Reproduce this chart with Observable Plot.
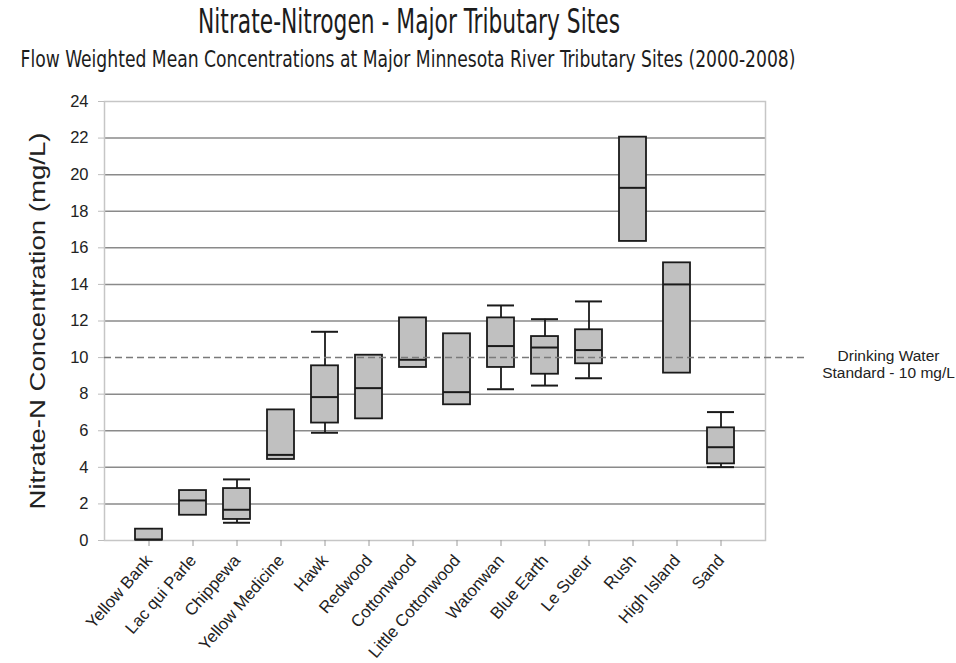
<!DOCTYPE html>
<html>
<head>
<meta charset="utf-8">
<script src="https://cdn.jsdelivr.net/npm/d3@7"></script>
<script src="https://cdn.jsdelivr.net/npm/@observablehq/plot@0.6"></script>
<style>
  body { margin: 0; background: #fff; }
  #header, #chart { display: block; }
  #header text { fill: #1c1c1c; font-family: 'Liberation Sans Narrow', 'DejaVu Sans Condensed', 'Liberation Sans', sans-serif; }
</style>
</head>
<body>
<svg id="header" width="956" height="75"></svg>
<div id="chart"></div>
<script>
// ---- Text ----
const titleText = "Nitrate-Nitrogen - Major Tributary Sites";
const subtitleText = "Flow Weighted Mean Concentrations at Major Minnesota River Tributary Sites (2000-2008)";
const yLabelText = "Nitrate-N Concentration (mg/L)";
const standardText = "Drinking Water\nStandard - 10 mg/L";

// ---- Data ----
const sites = ["Yellow Bank", "Lac qui Parle", "Chippewa", "Yellow Medicine", "Hawk", "Redwood",
  "Cottonwood", "Little Cottonwood", "Watonwan", "Blue Earth", "Le Sueur", "Rush", "High Island", "Sand"];
const q1 =          [0.02, 1.38, 1.15, 4.43, 6.42, 6.65, 9.46, 7.42, 9.46, 9.09, 9.66, 16.35, 9.15, 4.19];
const median =      [0.05, 2.19, 1.68, 4.68, 7.84, 8.33, 9.88, 8.11, 10.63, 10.55, 10.41, 19.28, 14.0, 5.10];
const q3 =          [0.62, 2.73, 2.84, 7.14, 9.55, 10.13, 12.17, 11.30, 12.17, 11.15, 11.52, 22.05, 15.18, 6.16];
const whiskerLow =  [null, null, 0.97, null, 5.89, null, null, null, 8.27, 8.47, 8.87, null, null, 4.01];
const whiskerHigh = [null, null, 3.34, null, 11.41, null, null, null, 12.85, 12.10, 13.07, null, null, 7.02];
const yTicks = [0, 2, 4, 6, 8, 10, 12, 14, 16, 18, 20, 22, 24];
const gridValues = [2, 4, 6, 8, 12, 14, 16, 18, 20, 22];
const standardValue = [10];

const rows = sites.map((s, i) => ({site: s, q1: q1[i], med: median[i], q3: q3[i], lo: whiskerLow[i], hi: whiskerHigh[i]}));
const withWhiskers = rows.filter(d => d.lo != null);

// ---- Header ----
const header = d3.select("#header");
header.append("text").attr("x", 409).attr("y", 33).attr("text-anchor", "middle")
  .attr("font-size", 33).attr("textLength", 422).attr("lengthAdjust", "spacingAndGlyphs").text(titleText);
header.append("text").attr("x", 408).attr("y", 67).attr("text-anchor", "middle")
  .attr("font-size", 22.5).attr("textLength", 775).attr("lengthAdjust", "spacingAndGlyphs").text(subtitleText);

// ---- Chart ----
const ink = "#1a1a1a";
const chart = Plot.plot({
  width: 956,
  height: 588,
  marginTop: 26,
  marginBottom: 123,
  marginLeft: 104,
  marginRight: 191,
  style: {fontFamily: "'Liberation Sans', Arial, sans-serif", fontSize: "16px", color: "#222", background: "#fff", overflow: "visible"},
  x: {domain: sites, paddingInner: 0.39, paddingOuter: 0.7, label: null},
  y: {domain: [0, 24], label: null},
  marks: [
    Plot.ruleY(gridValues, {stroke: "#8a8a8a", strokeWidth: 1.5}),
    Plot.frame({stroke: "#c6c6c6", strokeWidth: 1.5}),
    Plot.axisY(yTicks, {tickSize: 6, tickPadding: 10, stroke: "#bdbdbd", fill: "#222", fontSize: 16.5, label: null}),
    Plot.axisX({tickSize: 6, tickPadding: 11, tickRotate: -49, stroke: "#9a9a9a", fill: "#222", fontSize: 16.8, label: null}),
    Plot.ruleX(withWhiskers, {x: "site", y1: "lo", y2: "hi", stroke: ink, strokeWidth: 1.8}),
    Plot.tickY(withWhiskers, {x: "site", y: "lo", stroke: ink, strokeWidth: 2}),
    Plot.tickY(withWhiskers, {x: "site", y: "hi", stroke: ink, strokeWidth: 2}),
    Plot.barY(rows, {x: "site", y1: "q1", y2: "q3", fill: "#c0c0c0", stroke: ink, strokeWidth: 1.8}),
    Plot.tickY(rows, {x: "site", y: "med", stroke: ink, strokeWidth: 2}),
    Plot.ruleY(standardValue, {stroke: "#7a7a7a", strokeWidth: 1.5, strokeDasharray: "7,4", insetRight: -43}),
    Plot.text([standardText], {y: () => standardValue[0], text: d => d, frameAnchor: "right", dx: 123, dy: -9,
      textAnchor: "middle", lineAnchor: "top", lineHeight: 1.1, fontSize: 15.5, fill: "#222"}),
    Plot.text([yLabelText], {text: d => d, frameAnchor: "left", dx: -67, rotate: -90, textAnchor: "middle",
      lineAnchor: "middle", fontSize: 22, fill: "#222"})
  ]
});
document.getElementById("chart").appendChild(chart);
d3.select(chart).selectAll("text").filter(function () { return this.textContent === yLabelText; })
  .attr("textLength", 377).attr("lengthAdjust", "spacingAndGlyphs");
</script>
</body>
</html>
